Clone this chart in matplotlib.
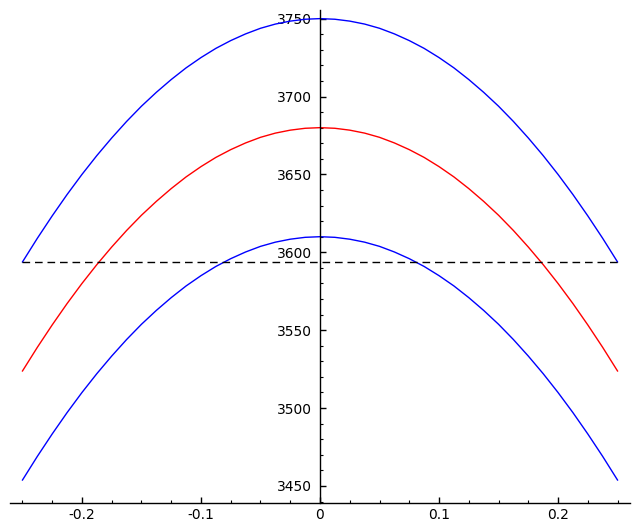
import matplotlib

matplotlib.use("Agg")
import matplotlib.pyplot as plt
from matplotlib.ticker import MultipleLocator

# values at x = -0.25 .. 0.25, step 0.0125
x_vals = [-0.25, -0.2375, -0.225, -0.2125, -0.2, -0.1875, -0.175, -0.1625, -0.15, -0.1375,
          -0.125, -0.1125, -0.1, -0.0875, -0.075, -0.0625, -0.05, -0.0375, -0.025, -0.0125,
          0.0,
          0.0125, 0.025, 0.0375, 0.05, 0.0625, 0.075, 0.0875, 0.1, 0.1125, 0.125,
          0.1375, 0.15, 0.1625, 0.175, 0.1875, 0.2, 0.2125, 0.225, 0.2375, 0.25]
upper = [3593.8, 3609.0, 3623.4, 3637.1, 3650.0, 3662.1, 3673.4, 3684.0, 3693.8, 3702.7,
         3710.9, 3718.4, 3725.0, 3730.9, 3735.9, 3740.2, 3743.8, 3746.5, 3748.4, 3749.6,
         3750.0,
         3749.6, 3748.4, 3746.5, 3743.8, 3740.2, 3735.9, 3730.9, 3725.0, 3718.4, 3710.9,
         3702.7, 3693.8, 3684.0, 3673.4, 3662.1, 3650.0, 3637.1, 3623.4, 3609.0, 3593.8]
middle = [3523.8, 3539.0, 3553.4, 3567.1, 3580.0, 3592.1, 3603.4, 3614.0, 3623.8, 3632.7,
          3640.9, 3648.4, 3655.0, 3660.9, 3665.9, 3670.2, 3673.8, 3676.5, 3678.4, 3679.6,
          3680.0,
          3679.6, 3678.4, 3676.5, 3673.8, 3670.2, 3665.9, 3660.9, 3655.0, 3648.4, 3640.9,
          3632.7, 3623.8, 3614.0, 3603.4, 3592.1, 3580.0, 3567.1, 3553.4, 3539.0, 3523.8]
lower = [3453.8, 3469.0, 3483.4, 3497.1, 3510.0, 3522.1, 3533.4, 3544.0, 3553.8, 3562.7,
         3570.9, 3578.4, 3585.0, 3590.9, 3595.9, 3600.2, 3603.8, 3606.5, 3608.4, 3609.6,
         3610.0,
         3609.6, 3608.4, 3606.5, 3603.8, 3600.2, 3595.9, 3590.9, 3585.0, 3578.4, 3570.9,
         3562.7, 3553.8, 3544.0, 3533.4, 3522.1, 3510.0, 3497.1, 3483.4, 3469.0, 3453.8]
threshold = 3593.75
x_span = [-0.25, 0.25]

fig = plt.figure(figsize=(6.4, 5.29), dpi=100)
ax = fig.add_axes([0.0156, 0.049, 0.9688, 0.932])

ax.plot(x_vals, upper, color="blue", lw=1)
ax.plot(x_vals, middle, color="red", lw=1)
ax.plot(x_vals, lower, color="blue", lw=1)
ax.plot(x_span, [threshold, threshold], color="black", lw=1, linestyle=(0, (5.5, 3.5)))

ax.set_xlim(-0.2605, 0.2605)
ax.set_ylim(3439, 3755.5)

# sage-style axes: y axis through x=0, x axis along the bottom
ax.spines["left"].set_position(("data", 0))
ax.spines["top"].set_visible(False)
ax.spines["right"].set_visible(False)
for s in ("left", "bottom"):
    ax.spines[s].set_linewidth(1)

ax.xaxis.set_major_locator(MultipleLocator(0.1))
ax.xaxis.set_minor_locator(MultipleLocator(0.025))
ax.yaxis.set_major_locator(MultipleLocator(50))
ax.yaxis.set_minor_locator(MultipleLocator(10))
ax.tick_params(which="major", direction="in", length=4.5, width=1, labelsize=10)
ax.tick_params(which="minor", direction="in", length=2.5, width=0.8)
ax.tick_params(axis="y", pad=6)

ax.set_xticks([-0.2, -0.1, 0, 0.1, 0.2])
ax.set_xticklabels(["-0.2", "-0.1", "0", "0.1", "0.2"])
ax.set_yticks([3450, 3500, 3550, 3600, 3650, 3700, 3750])

fig.savefig("out.png", dpi=100)
